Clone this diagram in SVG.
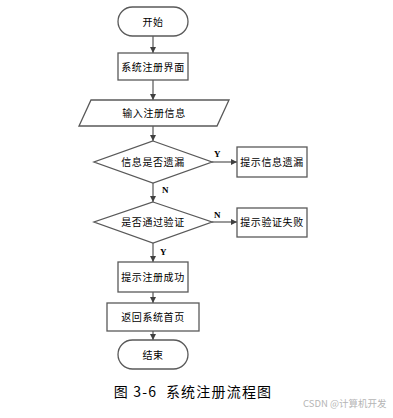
<svg xmlns="http://www.w3.org/2000/svg" width="393" height="418" viewBox="0 0 393 418">
<style>
.s{fill:#fff;stroke:#595959;stroke-width:1.3}
.t{font-family:"Noto Sans CJK SC","Liberation Sans",sans-serif;font-size:10px;fill:#000;text-anchor:middle;letter-spacing:0.6px}
.l{fill:none;stroke:#555;stroke-width:1.2}
.yn{font-family:"Liberation Serif",serif;font-size:9px;font-weight:bold;fill:#000}
.cap{font-family:"Noto Sans CJK SC","Liberation Sans",sans-serif;font-size:14px;fill:#000;text-anchor:middle;letter-spacing:1.2px}
.wm{font-family:"Noto Sans CJK SC","Liberation Sans",sans-serif;font-size:9.5px;fill:#b5b5b5}
</style>
<defs>
<marker id="a" viewBox="0 0 10 10" refX="10" refY="5" markerWidth="6" markerHeight="6" markerUnits="userSpaceOnUse" orient="auto"><path d="M0,0L10,5L0,10z" fill="#404040"/></marker>
</defs>
<rect width="393" height="418" fill="#fff"/>
<g id="connectors">
<line class="l" x1="153" y1="36" x2="153" y2="53" marker-end="url(#a)"/>
<line class="l" x1="153" y1="80" x2="153" y2="100" marker-end="url(#a)"/>
<line class="l" x1="153" y1="126" x2="153" y2="141" marker-end="url(#a)"/>
<line class="l" x1="212" y1="162" x2="237" y2="162" marker-end="url(#a)"/>
<line class="l" x1="153" y1="183" x2="153" y2="202" marker-end="url(#a)"/>
<line class="l" x1="212" y1="222" x2="237" y2="222" marker-end="url(#a)"/>
<line class="l" x1="153" y1="243" x2="153" y2="262" marker-end="url(#a)"/>
<line class="l" x1="153" y1="292" x2="153" y2="303" marker-end="url(#a)"/>
<line class="l" x1="153" y1="331" x2="153" y2="340" marker-end="url(#a)"/>
<text class="yn" x="214" y="157">Y</text>
<text class="yn" x="162" y="193">N</text>
<text class="yn" x="214" y="218">N</text>
<text class="yn" x="160" y="255">Y</text>
</g>
<g id="start"><rect class="s" x="118" y="7" width="70" height="29" rx="14.5"/><text class="t" x="153" y="25.5">开始</text></g>
<g id="ui"><rect class="s" x="118" y="53" width="70" height="27"/><text class="t" x="153" y="70.5">系统注册界面</text></g>
<g id="input"><polygon class="s" points="91,100 229,100 217,126 79,126"/><text class="t" x="154" y="117">输入注册信息</text></g>
<g id="d1"><polygon class="s" points="153,141 212,162 153,183 94,162"/><text class="t" x="153" y="165.5">信息是否遗漏</text></g>
<g id="miss"><rect class="s" x="237" y="147" width="70" height="30"/><text class="t" x="272" y="165.5">提示信息遗漏</text></g>
<g id="d2"><polygon class="s" points="153,202 212,222 153,243 94,222"/><text class="t" x="153" y="225.5">是否通过验证</text></g>
<g id="fail"><rect class="s" x="237" y="208" width="70" height="29"/><text class="t" x="272" y="226">提示验证失败</text></g>
<g id="ok"><rect class="s" x="118" y="262" width="70" height="30"/><text class="t" x="153" y="280.5">提示注册成功</text></g>
<g id="home"><rect class="s" x="107" y="303" width="92" height="28"/><text class="t" x="153" y="320.5">返回系统首页</text></g>
<g id="end"><rect class="s" x="118" y="340" width="70" height="29" rx="14.5"/><text class="t" x="153" y="358.5">结束</text></g>
<text class="cap" x="193" y="397" xml:space="preserve">图 3-6  系统注册流程图</text>
<text class="wm" x="303" y="407">CSDN @计算机开发</text>
</svg>
